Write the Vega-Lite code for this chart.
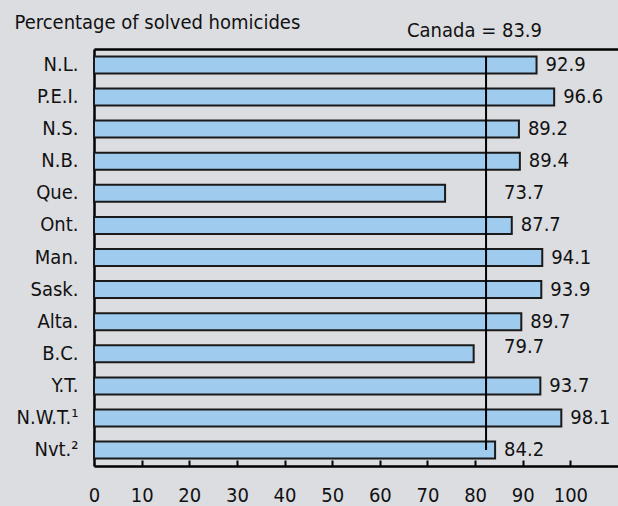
{
  "$schema": "https://vega.github.io/schema/vega-lite/v6.json",
  "width": 524,
  "height": 417,
  "autosize": "none",
  "padding": {"left": 94, "top": 49, "right": 0, "bottom": 40},
  "background": "#dcdde1",
  "config": {
    "view": {"stroke": null},
    "font": "DejaVu Sans Condensed",
    "text": {"font": "DejaVu Sans Condensed"}
  },
  "resolve": {"axis": {"x": "independent", "y": "independent"}},
  "data": {
    "values": [
      {"prov": "N.L.", "value": 92.9},
      {"prov": "P.E.I.", "value": 96.6},
      {"prov": "N.S.", "value": 89.2},
      {"prov": "N.B.", "value": 89.4},
      {"prov": "Que.", "value": 73.7},
      {"prov": "Ont.", "value": 87.7},
      {"prov": "Man.", "value": 94.1},
      {"prov": "Sask.", "value": 93.9},
      {"prov": "Alta.", "value": 89.7},
      {"prov": "B.C.", "value": 79.7},
      {"prov": "Y.T.", "value": 93.7},
      {"prov": "N.W.T.¹", "value": 98.1},
      {"prov": "Nvt.²", "value": 84.2}
    ]
  },
  "layer": [
    {
      "mark": {"type": "bar", "fill": "#9ecbee", "stroke": "#1a1a1a", "strokeWidth": 2},
      "encoding": {
        "x": {
          "field": "value", "type": "quantitative",
          "scale": {"domain": [0, 110], "nice": false, "zero": true},
          "axis": {
            "orient": "bottom", "title": null, "grid": false, "ticks": false,
            "values": [0, 10, 20, 30, 40, 50, 60, 70, 80, 90, 100],
            "domainColor": "#000", "domainWidth": 2.5,
            "labelFontSize": 20, "labelColor": "#111", "labelPadding": 19,
            "labelFlush": false, "labelOverlap": false
          }
        },
        "y": {
          "field": "prov", "type": "nominal", "sort": null,
          "scale": {"paddingInner": 0.47, "paddingOuter": 0.23},
          "axis": {
            "title": "Percentage of solved homicides",
            "titleAngle": 0, "titleAlign": "left", "titleBaseline": "alphabetic",
            "titleX": -80, "titleY": -21, "titleFontSize": 20, "titleFontWeight": "normal",
            "titleColor": "#111",
            "domainColor": "#000", "domainWidth": 2.5,
            "ticks": false, "labelPadding": 16, "labelFontSize": 20, "labelColor": "#111"
          }
        }
      }
    },
    {
      "transform": [{"filter": "datum.value >= 82.3"}],
      "mark": {"type": "text", "align": "left", "baseline": "middle", "dx": 9, "fontSize": 20, "color": "#111"},
      "encoding": {
        "x": {
          "field": "value", "type": "quantitative",
          "axis": {
            "orient": "top", "offset": -417, "title": null, "grid": false,
            "domain": false, "labels": false, "ticks": true,
            "values": [10, 20, 30, 40, 50, 60, 70, 80, 90, 100],
            "tickColor": "#000", "tickWidth": 2, "tickSize": 6
          }
        },
        "y": {"field": "prov", "type": "nominal", "sort": null, "axis": null},
        "text": {"field": "value", "type": "quantitative", "format": ".1f"}
      }
    },
    {
      "transform": [{"filter": "datum.prov == 'Que.'"}],
      "mark": {"type": "text", "align": "left", "baseline": "middle", "dx": 9, "dy": 0, "fontSize": 20, "color": "#111"},
      "encoding": {
        "x": {"datum": 84.2, "type": "quantitative", "axis": null},
        "y": {"field": "prov", "type": "nominal", "sort": null, "axis": null},
        "text": {"field": "value", "type": "quantitative", "format": ".1f"}
      }
    },
    {
      "transform": [{"filter": "datum.prov == 'B.C.'"}],
      "mark": {"type": "text", "align": "left", "baseline": "middle", "dx": 9, "dy": -7, "fontSize": 20, "color": "#111"},
      "encoding": {
        "x": {"datum": 84.2, "type": "quantitative", "axis": null},
        "y": {"field": "prov", "type": "nominal", "sort": null, "axis": null},
        "text": {"field": "value", "type": "quantitative", "format": ".1f"}
      }
    },
    {
      "data": {"values": [{"canada_line": 82.3, "first": "N.L.", "last": "Nvt.²"}]},
      "mark": {"type": "rule", "color": "#000", "strokeWidth": 2},
      "encoding": {
        "x": {
          "field": "canada_line", "type": "quantitative",
          "axis": {
            "orient": "top", "title": "Canada = 83.9", "labels": false, "ticks": false, "grid": false,
            "domainColor": "#000", "domainWidth": 2.5,
            "titleX": 380, "titleY": -13, "titleBaseline": "alphabetic", "titleAlign": "center",
            "titleFontSize": 20, "titleFontWeight": "normal", "titleColor": "#111"
          }
        },
        "y": {"field": "first", "type": "nominal", "sort": null, "bandPosition": 0, "axis": null},
        "y2": {"field": "last", "bandPosition": 0.5}
      }
    }
  ]
}
